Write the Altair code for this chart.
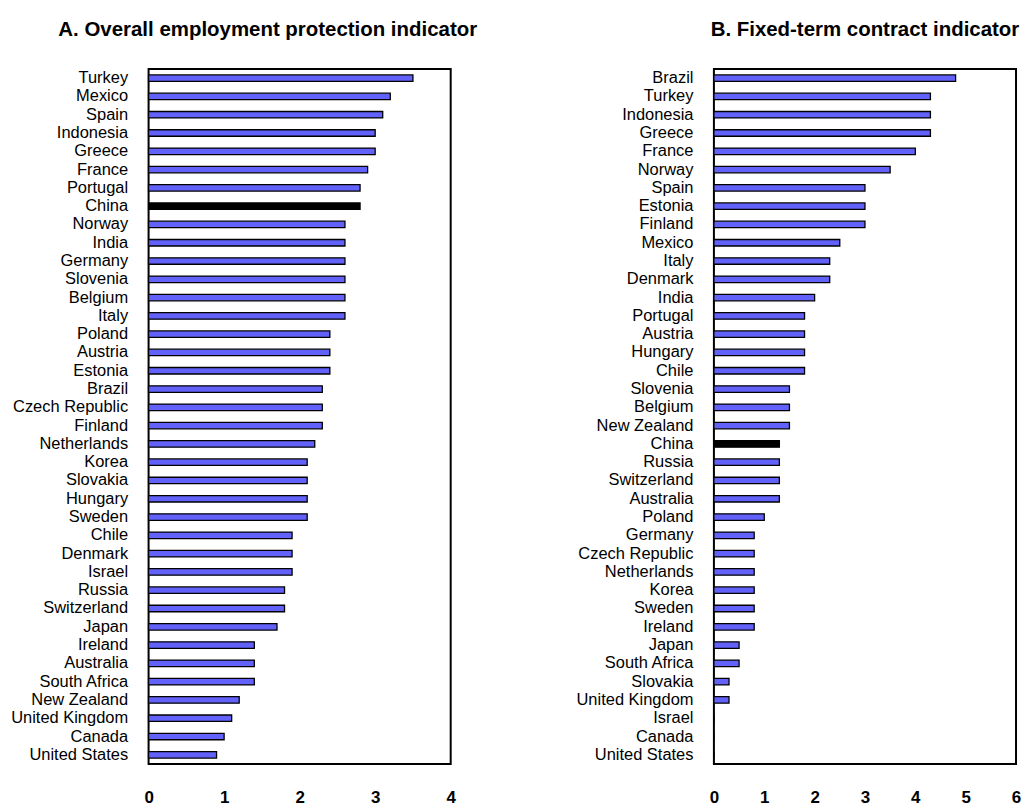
import altair as alt
import pandas as pd

countries_a = ["Turkey", "Mexico", "Spain", "Indonesia", "Greece", "France", "Portugal", "China",
               "Norway", "India", "Germany", "Slovenia", "Belgium", "Italy", "Poland", "Austria",
               "Estonia", "Brazil", "Czech Republic", "Finland", "Netherlands", "Korea", "Slovakia",
               "Hungary", "Sweden", "Chile", "Denmark", "Israel", "Russia", "Switzerland", "Japan",
               "Ireland", "Australia", "South Africa", "New Zealand", "United Kingdom", "Canada",
               "United States"]
values_a = [3.5, 3.2, 3.1, 3.0, 3.0, 2.9, 2.8, 2.8,
            2.6, 2.6, 2.6, 2.6, 2.6, 2.6, 2.4, 2.4,
            2.4, 2.3, 2.3, 2.3, 2.2, 2.1, 2.1,
            2.1, 2.1, 1.9, 1.9, 1.9, 1.8, 1.8, 1.7,
            1.4, 1.4, 1.4, 1.2, 1.1, 1.0,
            0.9]

countries_b = ["Brazil", "Turkey", "Indonesia", "Greece", "France", "Norway", "Spain", "Estonia",
               "Finland", "Mexico", "Italy", "Denmark", "India", "Portugal", "Austria", "Hungary",
               "Chile", "Slovenia", "Belgium", "New Zealand", "China", "Russia", "Switzerland",
               "Australia", "Poland", "Germany", "Czech Republic", "Netherlands", "Korea", "Sweden",
               "Ireland", "Japan", "South Africa", "Slovakia", "United Kingdom", "Israel", "Canada",
               "United States"]
values_b = [4.8, 4.3, 4.3, 4.3, 4.0, 3.5, 3.0, 3.0,
            3.0, 2.5, 2.3, 2.3, 2.0, 1.8, 1.8, 1.8,
            1.8, 1.5, 1.5, 1.5, 1.3, 1.3, 1.3,
            1.3, 1.0, 0.8, 0.8, 0.8, 0.8, 0.8,
            0.8, 0.5, 0.5, 0.3, 0.3, 0.0, 0.0,
            0.0]

title_a = "A. Overall employment protection indicator"
title_b = "B. Fixed-term contract indicator"
ticks_a = [0, 1, 2, 3, 4]
ticks_b = [0, 1, 2, 3, 4, 5, 6]

FONT = "Liberation Sans, Arial"
BLUE = "#6262FA"


def panel(countries, values, title, ticks, xmax, title_dx):
    df = pd.DataFrame({"country": countries, "value": values})
    return alt.Chart(df).mark_bar(size=6.5, stroke="black", strokeWidth=1.3).encode(
        y=alt.Y("country:N", sort=countries, title=None,
                scale=alt.Scale(paddingInner=0, paddingOuter=0),
                axis=alt.Axis(ticks=False, domain=False, labelFont=FONT,
                              labelFontSize=16.5, labelColor="black", labelPadding=21,
                              labelLimit=300)),
        x=alt.X("value:Q", title=None,
                scale=alt.Scale(domain=[0, xmax], nice=False, zero=True),
                axis=alt.Axis(values=ticks, ticks=False, domain=False, grid=False,
                              labelFont=FONT, labelFontWeight="bold",
                              labelFontSize=17, labelColor="black", labelPadding=26,
                              format="d", labelFlush=False)),
        color=alt.condition(alt.datum.country == "China", alt.value("black"), alt.value(BLUE)),
    ).properties(
        width=303, height=697,
        title=alt.TitleParams(title, font=FONT, fontSize=20.5, fontWeight="bold",
                              color="black", anchor="middle", frame="group", dx=title_dx,
                              baseline="alphabetic", offset=13),
    )


chart_a = panel(countries_a, values_a, title_a, ticks_a, 4, -32)
chart_b = panel(countries_b, values_b, title_b, ticks_b, 6, 0)

chart = alt.hconcat(chart_a, chart_b, spacing=264, bounds="flush").configure_view(
    stroke="black", strokeWidth=2
).properties(
    padding={"left": 1, "top": 9, "right": 0, "bottom": 0}
)

chart.save("out.html", embed_options={"renderer": "svg", "actions": False})
